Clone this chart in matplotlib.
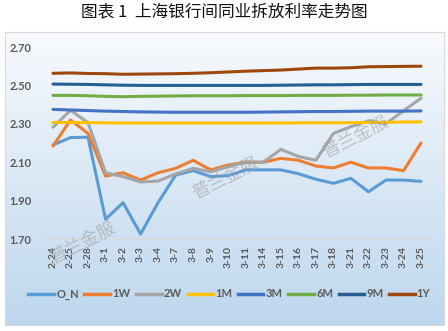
import numpy as np
import matplotlib
matplotlib.use("Agg")
import matplotlib.pyplot as plt
from matplotlib.lines import Line2D

plt.rcParams['font.family'] = ['Lato', 'Noto Sans CJK SC', 'DejaVu Sans']

categories = ["2-24", "2-25", "2-28", "3-1", "3-2", "3-3", "3-4", "3-7", "3-8", "3-9",
              "3-10", "3-11", "3-14", "3-15", "3-16", "3-17", "3-18", "3-21", "3-22",
              "3-23", "3-24", "3-25"]

o_n = [2.19, 2.228, 2.23, 1.803, 1.889, 1.726, 1.89, 2.033, 2.056, 2.025, 2.03, 2.06,
       2.06, 2.06, 2.04, 2.011, 1.99, 2.016, 1.946, 2.007, 2.007, 2.0]
w1 = [2.184, 2.32, 2.25, 2.028, 2.045, 2.007, 2.045, 2.068, 2.11, 2.06, 2.085, 2.10,
      2.10, 2.12, 2.11, 2.08, 2.07, 2.10, 2.07, 2.07, 2.056, 2.20]
w2 = [2.282, 2.37, 2.306, 2.045, 2.025, 1.997, 2.002, 2.039, 2.068, 2.05, 2.077, 2.10,
      2.10, 2.167, 2.13, 2.11, 2.25, 2.285, 2.316, 2.30, 2.368, 2.433]
m1 = [2.307, 2.307, 2.306, 2.305, 2.304, 2.304, 2.304, 2.304, 2.304, 2.304, 2.304, 2.304,
      2.304, 2.304, 2.305, 2.305, 2.305, 2.306, 2.307, 2.308, 2.309, 2.31]
m3 = [2.375, 2.372, 2.369, 2.366, 2.364, 2.362, 2.361, 2.36, 2.36, 2.36, 2.36, 2.36,
      2.361, 2.362, 2.363, 2.364, 2.364, 2.365, 2.366, 2.366, 2.366, 2.367]
m6 = [2.448, 2.448, 2.446, 2.443, 2.441, 2.443, 2.444, 2.445, 2.446, 2.446, 2.446, 2.447,
      2.447, 2.447, 2.448, 2.448, 2.448, 2.449, 2.449, 2.45, 2.45, 2.45]
m9 = [2.507, 2.506, 2.505, 2.503, 2.501, 2.5, 2.5, 2.5, 2.5, 2.5, 2.5, 2.5,
      2.5, 2.501, 2.502, 2.503, 2.503, 2.504, 2.505, 2.505, 2.505, 2.505]
y1 = [2.563, 2.565, 2.562, 2.561, 2.558, 2.559, 2.56, 2.561, 2.563, 2.566, 2.57, 2.574,
      2.577, 2.58, 2.585, 2.59, 2.59, 2.592, 2.597, 2.598, 2.599, 2.60]

series = [("O_N", o_n, "#5B9BD5"), ("1W", w1, "#ED7D31"), ("2W", w2, "#A5A5A5"),
          ("1M", m1, "#FFC000"), ("3M", m3, "#4472C4"), ("6M", m6, "#70AD47"),
          ("9M", m9, "#255E91"), ("1Y", y1, "#9E480E")]
yticks = [1.70, 1.90, 2.10, 2.30, 2.50, 2.70]

W, H = 448, 331
fig = plt.figure(figsize=(W / 100, H / 100), dpi=100)

# gradient chart area
bx0, by0, bx1, by1 = 5, 32, 444, 325
bg = fig.add_axes([bx0 / W, 1 - by1 / H, (bx1 - bx0) / W, (by1 - by0) / H])
top = np.array([0xF8, 0xFA, 0xFD]) / 255
bot = np.array([0xBD, 0xD7, 0xEE]) / 255
t = np.linspace(0, 1, 256)[:, None]
grad = (top[None, :] * (1 - t) + bot[None, :] * t)[:, None, :]
bg.imshow(grad, aspect='auto', extent=[0, 1, 0, 1])
bg.set_xticks([]); bg.set_yticks([])
for s in bg.spines.values():
    s.set_color('#D9D9D9'); s.set_linewidth(0.8)

fig.text(0.5, 1 - 12 / H, "图表 1  上海银行间同业拆放利率走势图", ha='center', va='center',
         fontsize=12, fontweight='medium', family=['Noto Sans CJK SC', 'DejaVu Sans'],
         color='#111111')

left = 44.2 / W
right = 429.8 / W
ax = fig.add_axes([left, 1 - 239 / H, right - left, (239 - 47) / H])
ax.patch.set_alpha(0)
x = np.arange(len(categories))
for name, vals, col in series:
    ax.plot(x, vals, color=col, lw=2.2, label=name, solid_capstyle='round')

ax.set_xlim(-0.5, len(categories) - 0.5)
ax.set_ylim(1.70, 2.70)
ax.set_yticks(yticks)
ax.set_yticklabels([f"{v:.2f}" for v in yticks], fontsize=8, fontweight='bold', color='#595959')
ax.set_xticks(x)
ax.set_xticklabels(categories, rotation=90, fontsize=7.5, fontweight='bold', color='#595959')
ax.tick_params(axis='x', length=0, pad=5)
ax.tick_params(axis='y', length=0, pad=9)
ax.set_xticks(np.arange(-0.5, len(categories), 1), minor=True)
ax.tick_params(axis='x', which='minor', length=3, direction='in', color='#D9D9D9')
for k in ['top', 'right', 'left']:
    ax.spines[k].set_visible(False)
ax.spines['bottom'].set_color('#D9D9D9')
ax.spines['bottom'].set_linewidth(0.8)

handles = [Line2D([0], [0], color=c, lw=2.5) for _, _, c in series]
leg = fig.legend(handles, [n for n, _, _ in series], loc='center',
                 bbox_to_anchor=(229.5 / W, 1 - 294 / H), ncol=8, frameon=False,
                 handlelength=2.3, handletextpad=0.2, columnspacing=0.5,
                 borderpad=0, borderaxespad=0,
                 prop={'size': 8, 'weight': 'bold'})
for txt in leg.get_texts():
    txt.set_color('#595959')

for (wx, wy) in [(82, 243), (225, 178), (355, 137)]:
    fig.text(wx / W, 1 - wy / H, "普兰金服", ha='center', va='center', rotation=27,
             fontsize=13, color='#9A9A9A', alpha=0.55,
             family=['Noto Sans CJK SC', 'DejaVu Sans'])

fig.savefig("out.png", dpi=100)
